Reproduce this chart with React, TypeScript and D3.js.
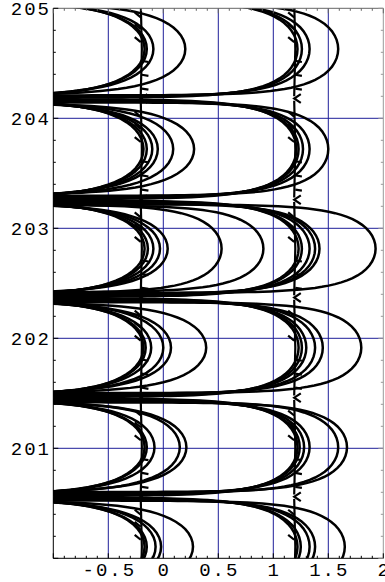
import React from 'react'
import * as d3 from 'd3'

// horizontal "throats" where the curves bunch together (y values)
const THROATS = [199.65, 200.56, 201.46, 202.37, 203.26, 204.18, 205.08]

// rightmost x of each arc, one list per band between two throats (bottom band first)
const LEFT_ARCS = [
  [-0.17, -0.15, -0.07, -0.02, 0.27],
  [-0.17, -0.15, -0.08, 0.15, 0.21],
  [-0.18, -0.16, -0.11, 0.0, 0.07, 0.39],
  [-0.17, -0.14, -0.09, -0.03, 0.04, 0.53, 0.91],
  [-0.18, -0.15, -0.1, -0.05, 0.09, 0.28],
  [-0.17, -0.15, -0.09, 0.2],
]
const RIGHT_ARCS = [
  [1.22, 1.25, 1.33, 1.38, 1.65],
  [1.22, 1.24, 1.28, 1.33, 1.59, 1.67],
  [1.23, 1.26, 1.3, 1.38, 1.45, 1.8],
  [1.23, 1.26, 1.33, 1.38, 1.42, 1.93],
  [1.21, 1.23, 1.27, 1.33, 1.5],
  [1.22, 1.26, 1.33, 1.59],
]
// x of the two near vertical spines with the little barbs
const SPINES = [-0.205, 1.19]
// where the barbs sit, as a fraction of the band measured from its top throat
const BARBS_UP = [0.18, 0.3, 0.43]
const BARBS_DOWN = [0.62, 0.76, 0.9]

const X_TICKS = [-0.5, 0, 0.5, 1, 1.5, 2]
const X_LABELS = ['-0.5', '0', '0.5', '1', '1.5', '2']
const Y_TICKS = [201, 202, 203, 204, 205]
const X_GRID = [-0.5, 0, 0.5, 1, 1.5]
const Y_GRID = [201, 202, 203, 204]

const W = 385
const H = 582

export default function App() {
  const x = d3.scaleLinear().domain([-1, 2]).range([53.3, 383.3])
  const y = d3.scaleLinear().domain([200, 205]).range([558.3, 8.3])

  const line = d3.line<[number, number]>().x(d => x(d[0])).y(d => y(d[1]))

  // one C shaped arc: horn that leaves the upper throat, bows right to xm, and sinks back into the lower throat
  function arcPoints(xm: number, yLo: number, yHi: number, i: number): [number, number][] {
    const A = xm > 0.45 ? 0.36 : 0.45
    const d = 0.007 * (i + 1)
    const mid = (yHi + yLo) / 2
    const b = (yHi - yLo) / 2 - d
    const pts: [number, number][] = []
    d3.range(-4.5, 4.501, 0.1).forEach(t => {
      const s = Math.tanh(t)
      pts.push([xm + A * Math.log(1 - s * s), mid - b * s])
    })
    const first = pts[0]
    const last = pts[pts.length - 1]
    return [[-1.3, first[1]], ...pts, [-1.3, last[1]]]
  }

  const arcs: string[] = []
  ;[LEFT_ARCS, RIGHT_ARCS].forEach(group => {
    group.forEach((band, p) => {
      band.forEach((xm, i) => {
        arcs.push(line(arcPoints(xm, THROATS[p], THROATS[p + 1], i)) || '')
      })
    })
  })

  const barbs: string[] = []
  SPINES.forEach(sx => {
    THROATS.slice(0, -1).forEach((yLo, p) => {
      const yHi = THROATS[p + 1]
      const h = yHi - yLo
      barbs.push(line([[sx, yHi - 0.02], [sx + 0.01, (yHi + yLo) / 2], [sx, yLo + 0.02]]) || '')
      BARBS_UP.forEach(f => {
        const yy = yHi - f * h
        barbs.push(line([[sx - 0.055, yy + 0.045], [sx, yy]]) || '')
      })
      BARBS_DOWN.forEach(f => {
        const yy = yHi - f * h
        barbs.push(line([[sx + 0.01, yy], [sx + 0.07, yy - 0.01]]) || '')
      })
      // little fork at the throat
      barbs.push(line([[sx + 0.06, yLo + 0.04], [sx, yLo], [sx + 0.06, yLo - 0.04]]) || '')
    })
  })

  const xMinor = d3.range(-10, 21).map(k => k / 10)
  const yMinor = d3.range(0, 26).map(k => 200 + k / 5)
  const [x0, x1] = x.range()
  const [y0, y1] = y.range()

  return (
    <svg width={W} height={H} style={{ position: 'absolute', left: 0, top: 0, background: '#fff' }}>
      <defs>
        <clipPath id="plot">
          <rect x={x0} y={y1} width={x1 - x0} height={y0 - y1} />
        </clipPath>
      </defs>
      <g clipPath="url(#plot)">
        {X_GRID.map(v => (
          <line key={'gx' + v} x1={x(v)} x2={x(v)} y1={y1} y2={y0} stroke="#1f1f99" strokeWidth={1} />
        ))}
        {Y_GRID.map(v => (
          <line key={'gy' + v} x1={x0} x2={x1} y1={y(v)} y2={y(v)} stroke="#1f1f99" strokeWidth={1} />
        ))}
        {arcs.map((dd, k) => (
          <path key={'a' + k} d={dd} fill="none" stroke="#000" strokeWidth={2.5} />
        ))}
        {barbs.map((dd, k) => (
          <path key={'b' + k} d={dd} fill="none" stroke="#000" strokeWidth={2.2} />
        ))}
      </g>
      {/* frame */}
      <line x1={x0} x2={x1} y1={y1} y2={y1} stroke="#666" strokeWidth={1} />
      <line x1={x1} x2={x1} y1={y1} y2={y0} stroke="#999" strokeWidth={1} />
      <line x1={x0} x2={x0} y1={y1} y2={y0} stroke="#000" strokeWidth={1} />
      <line x1={x0} x2={x1} y1={y0} y2={y0} stroke="#000" strokeWidth={1} />
      {xMinor.map(v => {
        const major = X_TICKS.includes(v) || v === -1
        const len = major ? 5 : 2.5
        return (
          <g key={'tx' + v}>
            <line x1={x(v)} x2={x(v)} y1={y0} y2={y0 - len} stroke="#000" />
            <line x1={x(v)} x2={x(v)} y1={y1} y2={y1 + len} stroke="#666" />
          </g>
        )
      })}
      {yMinor.map(v => {
        const major = Math.abs(v - Math.round(v)) < 1e-6
        const len = major ? 5 : 2.5
        return (
          <g key={'ty' + v}>
            <line x1={x0} x2={x0 + len} y1={y(v)} y2={y(v)} stroke="#000" />
            <line x1={x1} x2={x1 - len} y1={y(v)} y2={y(v)} stroke="#999" />
          </g>
        )
      })}
      {X_TICKS.map((v, k) => (
        <text key={'lx' + v} x={x(v) + 1} y={576} textAnchor="middle" fontFamily="Liberation Mono, monospace" fontSize={19} letterSpacing={2} fill="#000">
          {X_LABELS[k]}
        </text>
      ))}
      {Y_TICKS.map(v => (
        <text key={'ly' + v} x={51} y={y(v)} dy="0.35em" textAnchor="end" fontFamily="Liberation Mono, monospace" fontSize={19} letterSpacing={2} fill="#000">
          {String(v)}
        </text>
      ))}
    </svg>
  )
}
